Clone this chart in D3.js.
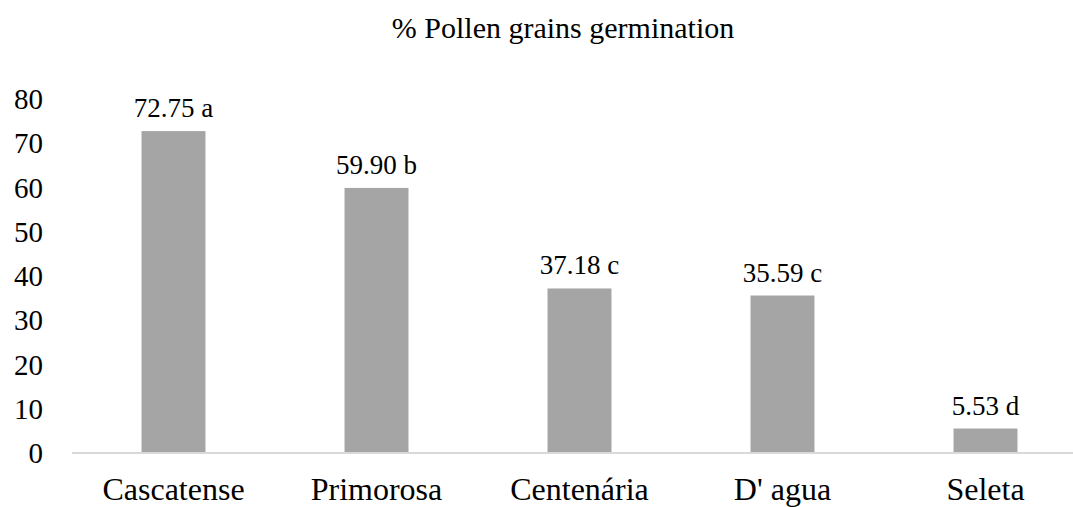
<!DOCTYPE html>
<html>
<head>
<meta charset="utf-8">
<script src="https://cdn.jsdelivr.net/npm/d3@7"></script>
</head>
<body style="margin:0">
<script>
var WIDTH = 1073;
var HEIGHT = 507;

var categories = ['Cascatense', 'Primorosa', 'Centen\u00e1ria', "D' agua", 'Seleta'];
var values = [72.75, 59.90, 37.18, 35.59, 5.53];
var letters = ['a', 'b', 'c', 'c', 'd'];
var yTicks = [0, 10, 20, 30, 40, 50, 60, 70, 80];

var svg = d3.select('body').append('svg')
    .attr('width', WIDTH)
    .attr('height', HEIGHT);

var x = d3.scaleBand()
    .domain(categories)
    .range([72, 1087])
    .paddingInner(0.685)
    .paddingOuter(0.3425);

var y = d3.scaleLinear()
    .domain([0, 80])
    .range([453, 99]);

var addText = function(sel, size) {
    return sel.append('text')
        .attr('font-family', function() { return 'Liberation Serif'; })
        .attr('font-size', size);
};

// title
addText(svg, 30)
    .attr('x', 563)
    .attr('y', 38)
    .attr('text-anchor', 'middle')
    .text('% Pollen grains germination');

// y tick labels
yTicks.forEach(function(t) {
    addText(svg, 29)
        .attr('x', 43)
        .attr('y', y(t) + 10)
        .attr('text-anchor', 'end')
        .text(t);
});

// bars
svg.selectAll('rect')
    .data(values)
    .enter()
    .append('rect')
    .attr('x', function(d, i) { return x(categories[i]); })
    .attr('width', x.bandwidth())
    .attr('y', function(d) { return y(d); })
    .attr('height', function(d) { return y(0) - y(d); })
    .attr('fill', '#a5a5a5');

// baseline
svg.append('line')
    .attr('x1', 72)
    .attr('x2', 1087)
    .attr('y1', y(0))
    .attr('y2', y(0))
    .attr('stroke', '#d9d9d9')
    .attr('stroke-width', 2);

// value labels and category labels
values.forEach(function(v, i) {
    var cx = x(categories[i]) + x.bandwidth() / 2;
    addText(svg, 27)
        .attr('x', cx)
        .attr('y', y(v) - 14)
        .attr('text-anchor', 'middle')
        .text(v.toFixed(2) + ' ' + letters[i]);
    addText(svg, 32)
        .attr('x', cx)
        .attr('y', 500)
        .attr('text-anchor', 'middle')
        .text(categories[i]);
});
</script>
</body>
</html>
